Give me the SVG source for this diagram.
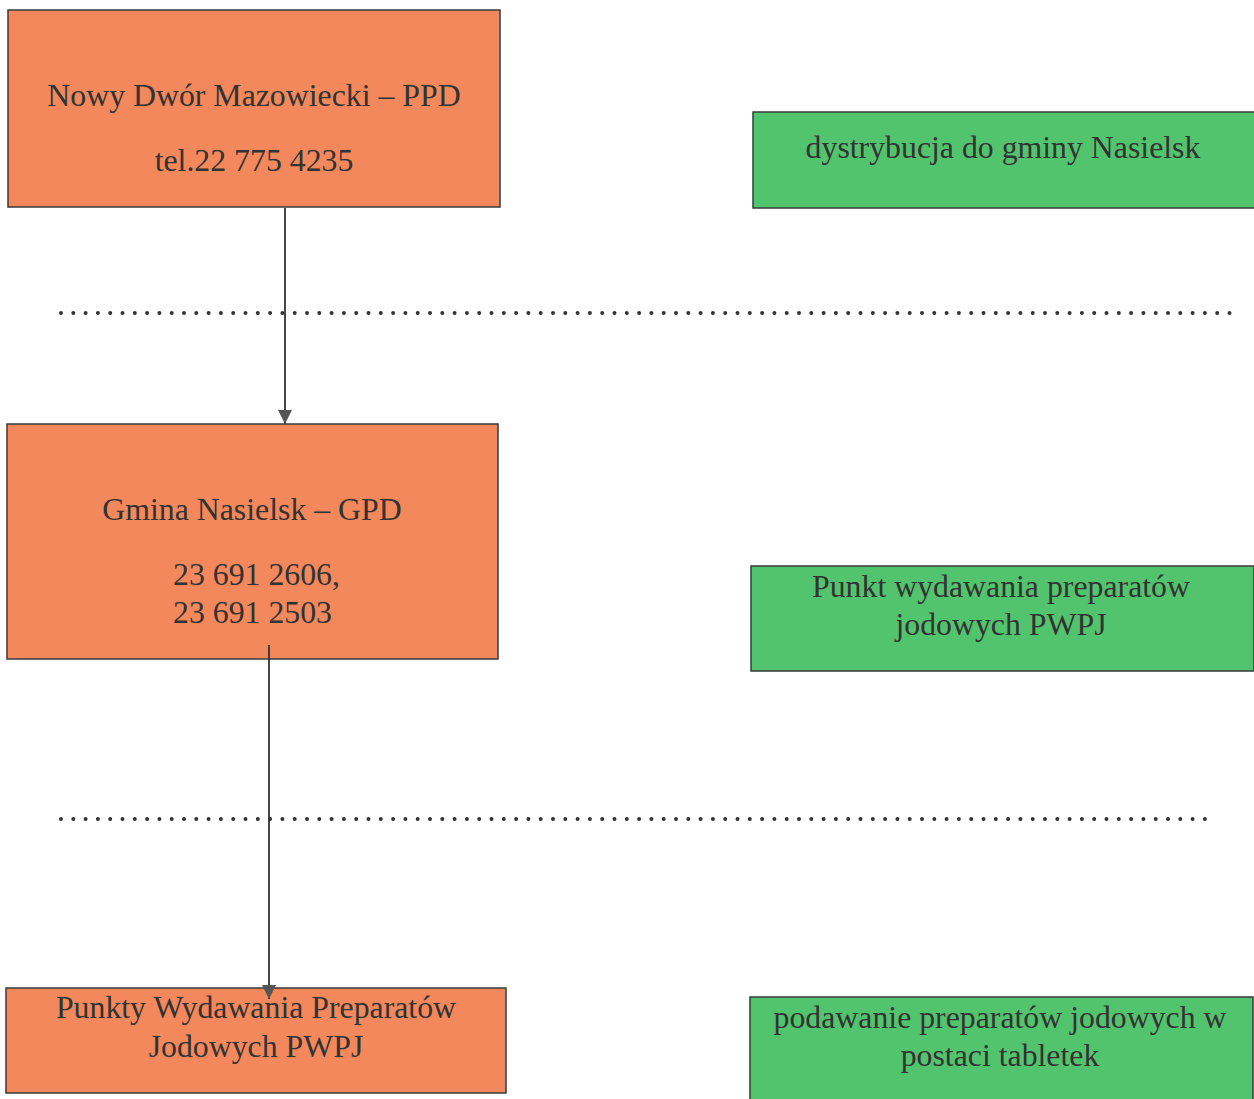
<svg xmlns="http://www.w3.org/2000/svg" width="1254" height="1099" viewBox="0 0 1254 1099">
<style>
.o{fill:#F2885C;stroke:#3a3a3a;stroke-width:1.5}
.g{fill:#52C46E;stroke:#3a3a3a;stroke-width:1.5}
text{font-family:"Liberation Serif","Times New Roman",serif;font-size:31.8px;fill:#333;text-anchor:middle}
.dot{stroke:#333;stroke-width:4;stroke-linecap:round;stroke-dasharray:0 12.3;fill:none}
.c{stroke:#333;stroke-width:1.8;fill:none;marker-end:url(#ah)}
</style>
<defs>
<marker id="ah" markerWidth="16" markerHeight="16" refX="15" refY="8" orient="auto" markerUnits="userSpaceOnUse" viewBox="0 0 16 16">
<path d="M1,1 L15,8 L1,15 Z" fill="#555"/>
</marker>
</defs>
<rect width="1254" height="1099" fill="#fff"/>
<g id="separators">
<line class="dot" x1="61" y1="313" x2="1230" y2="313"/>
<line class="dot" x1="61" y1="819" x2="1214" y2="819"/>
</g>
<g id="n1"><rect class="o" x="8" y="10" width="492" height="197"/>
<text x="254" y="106">Nowy Dwór Mazowiecki – PPD</text>
<text x="254" y="171">tel.22 775 4235</text></g>
<g id="n2"><rect class="g" x="753" y="112" width="502" height="96"/>
<text x="1003" y="158">dystrybucja do gminy Nasielsk</text></g>
<g id="n3"><rect class="o" x="7" y="424" width="491" height="235"/>
<text x="252" y="520">Gmina Nasielsk – GPD</text>
<text x="173" y="585" style="text-anchor:start">23 691 2606,</text>
<text x="173" y="623" style="text-anchor:start">23 691 2503</text></g>
<g id="n4"><rect class="g" x="751" y="566" width="503" height="105"/>
<text x="1001" y="597">Punkt wydawania preparatów</text>
<text x="1001" y="635">jodowych PWPJ</text></g>
<g id="n5"><rect class="o" x="6" y="988" width="500" height="105"/>
<text x="256" y="1018">Punkty Wydawania Preparatów</text>
<text x="256" y="1057">Jodowych PWPJ</text></g>
<g id="n6"><rect class="g" x="750" y="997" width="503" height="110"/>
<text x="1000" y="1028">podawanie preparatów jodowych w</text>
<text x="1000" y="1066">postaci tabletek</text></g>
<g id="connectors">
<line class="c" x1="285" y1="208" x2="285" y2="424"/>
<line class="c" x1="269" y1="645" x2="269" y2="999"/>
</g>
</svg>
